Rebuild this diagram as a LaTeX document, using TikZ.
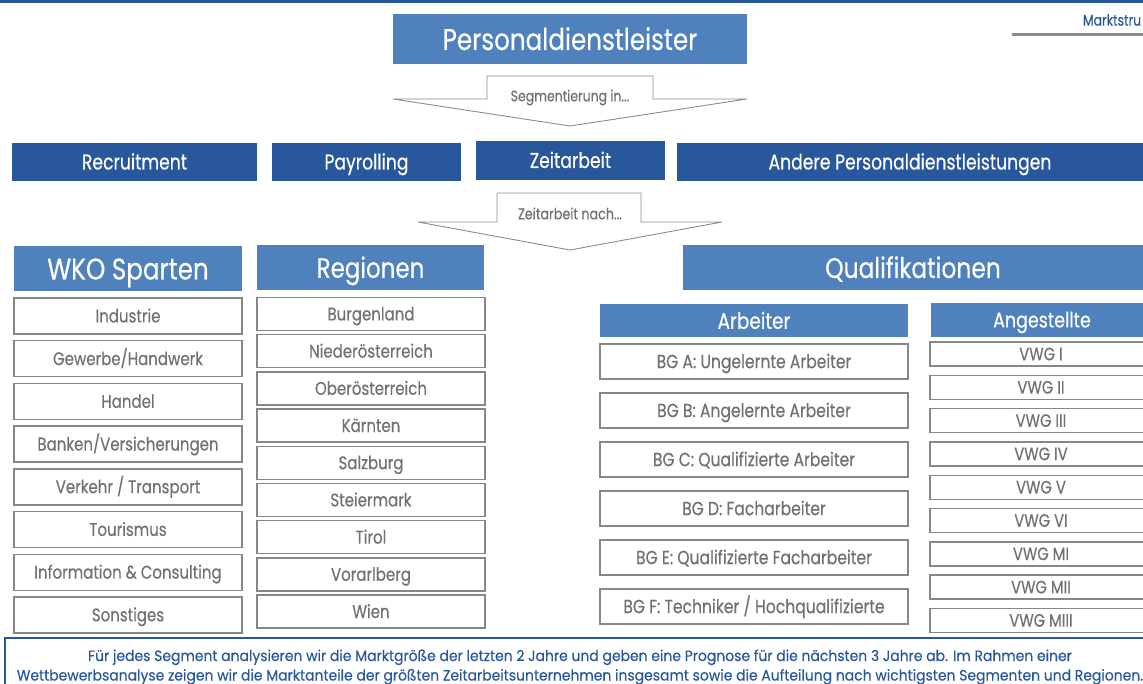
\documentclass[tikz,border=0pt]{standalone}
\usepackage{fontspec}
\setmainfont{Poppins}[FakeStretch=0.82,FakeBold=0.35]
\newfontfamily\condfont[FakeStretch=0.8,FakeBold=0.35]{Poppins}
\newfontfamily\botfont[FakeStretch=0.93,FakeBold=0.35]{Poppins}
\definecolor{medblue}{RGB}{79,129,189}
\definecolor{darkblue}{RGB}{41,87,155}
\definecolor{boxgray}{RGB}{135,135,135}
\definecolor{txtgray}{RGB}{118,112,108}
\definecolor{linegray}{RGB}{140,140,140}
\begin{document}
\begin{tikzpicture}[x=1pt,y=-1pt,
  every node/.style={inner sep=0pt,outer sep=0pt},
  hdr/.style={fill=medblue,text=white,align=center},
  seg/.style={fill=darkblue,text=white,font=\condfont\fontsize{21.5}{24}\selectfont,text height=15pt,text depth=0pt},
  itembox/.style={draw=boxgray,line width=1.4pt,fill=white,text=txtgray,font=\fontsize{18.3}{20}\selectfont,text height=12.8pt,text depth=0pt},
  bgbox/.style={itembox,font=\fontsize{19}{21}\selectfont,text height=13.3pt},
  vwgbox/.style={itembox,font=\fontsize{18}{20}\selectfont,text height=12.6pt},
  arrowshape/.style={draw=linegray,line width=0.9pt,fill=white},
  arrowlabel/.style={text=txtgray,font=\fontsize{15.2}{17}\selectfont,text height=10.6pt,text depth=0pt}
]
\useasboundingbox (0,0) rectangle (1143,684);
\clip (0,0) rectangle (1143,684);
\fill[white] (0,0) rectangle (1143,684);
% top band
\fill[darkblue] (0,0) rectangle (1143,3);
\node[anchor=west,text=darkblue,font=\condfont\fontsize{15.5}{17}\selectfont] (mk) at (1083,20) {Marktstru};
\coordinate (gl1) at (1012,35);
\coordinate (gl2) at (1143,35);
\draw[linegray,line width=3pt] (gl1) -- (gl2);

% main header
\node[hdr,minimum width=354pt,minimum height=50pt,font=\fontsize{30}{33}\selectfont,text height=21pt,text depth=0pt] (pd) at (570,39.5) {Personaldienstleister};

% arrow 1
\draw[arrowshape] (393,99) -- (487,99) -- (487,76) -- (653,76) -- (653,99) -- (747,99) -- (570,126) -- cycle;
\node[arrowlabel] (a1) at (570,96) {Segmentierung in...};

% segments
\node[seg,minimum width=245pt,minimum height=38pt] (rec) at (134.5,162) {Recruitment};
\node[seg,minimum width=189pt,minimum height=38pt] (pay) at (366.5,162) {Payrolling};
\node[seg,minimum width=189pt,minimum height=39pt] (zeit) at (570.5,160.5) {Zeitarbeit};
\node[seg,minimum width=466pt,minimum height=38pt] (and) at (910,162) {Andere Personaldienstleistungen};

% arrow 2
\draw[arrowshape] (418,222) -- (497,222) -- (497,193) -- (641,193) -- (641,222) -- (722,222) -- (570,250) -- cycle;
\node[arrowlabel,font=\fontsize{15.5}{17}\selectfont] (a2) at (570,214) {Zeitarbeit nach...};

% column headers
\node[hdr,minimum width=228pt,minimum height=45pt,font=\fontsize{30}{33}\selectfont,text height=21pt,text depth=0pt] (wko) at (128,269) {WKO Sparten};
\node[hdr,minimum width=227pt,minimum height=45pt,font=\fontsize{28}{31}\selectfont,text height=19.6pt,text depth=0pt] (reg) at (370.5,268) {Regionen};
\node[hdr,minimum width=460pt,minimum height=45pt,font=\fontsize{28.5}{31}\selectfont,text height=20pt,text depth=0pt] (qual) at (913,268) {Qualifikationen};
\node[hdr,minimum width=308pt,minimum height=33pt,font=\fontsize{22.5}{25}\selectfont,text height=15.7pt,text depth=0pt] (arb) at (754,321) {Arbeiter};
\node[hdr,minimum width=222pt,minimum height=34pt,font=\fontsize{21.3}{24}\selectfont,text height=14.9pt,text depth=0pt] (ang) at (1042,320) {Angestellte};

% WKO items
\foreach \t [count=\i from 0] in {Industrie,Gewerbe/Handwerk,Handel,Banken/Versicherungen,Verkehr / Transport,Tourismus,Information \& Consulting,Sonstiges}
  \node[itembox,minimum width=228pt,minimum height=36pt] (w\i) at (128,{316+42.7*\i}) {\t};

% Regionen items
\foreach \t [count=\i from 0] in {Burgenland,Niederösterreich,Oberösterreich,Kärnten,Salzburg,Steiermark,Tirol,Vorarlberg,Wien}
  \node[itembox,minimum width=228pt,minimum height=33pt] (r\i) at (371,{314+37.2*\i}) {\t};

% BG items
\foreach \t [count=\i from 0] in {BG A: Ungelernte Arbeiter,BG B: Angelernte Arbeiter,BG C: Qualifizierte Arbeiter,BG D: Facharbeiter,BG E: Qualifizierte Facharbeiter,BG F: Techniker / Hochqualifizierte}
  \node[bgbox,minimum width=308pt,minimum height=35pt] (b\i) at (754,{361.5+49*\i}) {\t};

% VWG items
\foreach \t [count=\i from 0] in {VWG I,VWG II,VWG III,VWG IV,VWG V,VWG VI,VWG MI,VWG MII,VWG MIII}
  \node[vwgbox,minimum width=222pt,minimum height=24pt] (v\i) at (1041,{354+33.3*\i}) {\t};

% bottom box
\node[draw=darkblue,line width=2pt,fill=white,minimum width=1145pt,minimum height=55pt] (bot) at (577.5,665.5) {};
\node[text=darkblue,align=center,font=\botfont\fontsize{15}{19.5}\selectfont] (bottxt) at (580,667) {Für jedes Segment analysieren wir die Marktgröße der letzten 2 Jahre und geben eine Prognose für die nächsten 3 Jahre ab. Im Rahmen einer\\Wettbewerbsanalyse zeigen wir die Marktanteile der größten Zeitarbeitsunternehmen insgesamt sowie die Aufteilung nach wichtigsten Segmenten und Regionen.};
\end{tikzpicture}
\end{document}
